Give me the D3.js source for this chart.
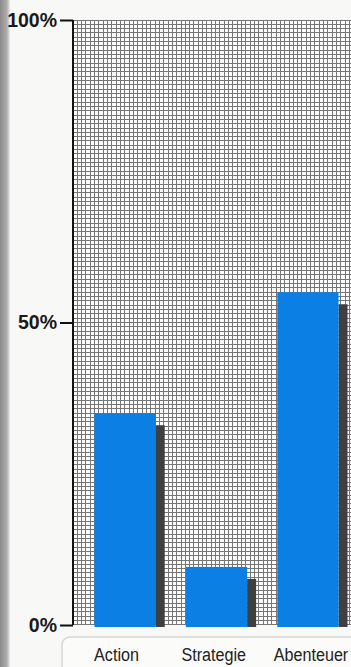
<!DOCTYPE html>
<html><head><meta charset="utf-8">
<script src="https://cdn.jsdelivr.net/npm/d3@7"></script>
<style>html,body{margin:0;padding:0;background:#f7f7f5;overflow:hidden}</style>
</head><body><svg id="c" width="351" height="667"></svg>
<script>
const categories = ["Action", "Strategie", "Abenteuer"];
const values = [35, 9.6, 55];
const tickValues = [0, 50, 100];
const tickLabels = ["0%", "50%", "100%"];

const W = 351, H = 667;
const svg = d3.select("#c");
const x0 = 73, yTop = 20, yBot = 625;
const y = d3.scaleLinear().domain([0, 100]).range([yBot, yTop]);
const x = d3.scaleBand().domain(categories).range([x0, 360]).paddingInner(0.33).paddingOuter(0.235);
const xl = d3.scalePoint().domain(categories).range([116.5, 311]);

svg.append("rect").attr("width", W).attr("height", H).attr("fill", "#f8f8f6");
const defs = svg.append("defs");
const g1 = defs.append("linearGradient").attr("id", "edge");
g1.append("stop").attr("offset", "0%").attr("stop-color", "#8a8a8a");
g1.append("stop").attr("offset", "70%").attr("stop-color", "#b0b0b0");
g1.append("stop").attr("offset", "100%").attr("stop-color", "#ececec");
svg.append("rect").attr("x", 0).attr("y", 0).attr("width", 10).attr("height", H).attr("fill", "url(#edge)");

// grid background
const grid = svg.append("g").attr("shape-rendering", "crispEdges");
grid.append("rect").attr("x", x0).attr("y", yTop).attr("width", W - x0).attr("height", yBot - yTop).attr("fill", "#fdfdfd");
const step = 4.32;
const gx = d3.range(x0 + step, W, step);
const gy = d3.range(yTop, yBot, step);
grid.selectAll("line.v").data(gx).join("line")
  .attr("x1", d => d).attr("x2", d => d).attr("y1", yTop).attr("y2", yBot)
  .attr("stroke", "#767676").attr("stroke-width", 1);
grid.selectAll("line.h").data(gy).join("line")
  .attr("y1", d => d).attr("y2", d => d).attr("x1", x0).attr("x2", W)
  .attr("stroke", "#767676").attr("stroke-width", 1);

// label box
svg.append("rect").attr("x", 62).attr("y", 637).attr("width", 320).attr("height", 60).attr("rx", 8)
  .attr("fill", "#fbfbfa").attr("stroke", "#d6d6d6").attr("stroke-width", 1.5);

const data = categories.map((c, i) => ({c, v: values[i]}));
svg.selectAll("rect.sh").data(data).join("rect")
  .attr("x", d => x(d.c) + x.bandwidth()).attr("width", 9)
  .attr("y", d => y(d.v) + 12).attr("height", d => yBot + 2 - y(d.v) - 12)
  .attr("fill", "#3f3f3f");
svg.selectAll("rect.bar").data(data).join("rect")
  .attr("x", d => x(d.c)).attr("width", x.bandwidth())
  .attr("y", d => y(d.v)).attr("height", d => yBot + 2 - y(d.v))
  .attr("fill", "#0b7fe3");

// y axis
const axis = d3.axisLeft(y).tickValues(tickValues).tickSize(13).tickPadding(3)
  .tickFormat((d, i) => tickLabels[i]);
const ag = svg.append("g").attr("transform", `translate(${x0},0)`).call(axis);
ag.select(".domain").attr("stroke", "#111").attr("stroke-width", 2).attr("d", `M0,${yTop}V${yBot}`);
ag.selectAll(".tick line").attr("stroke", "#111").attr("stroke-width", 2);
ag.selectAll(".tick text")
  .style("font-family", "'Liberation Sans', Arial, sans-serif").style("font-weight", "bold")
  .style("font-size", "19.5px").attr("fill", "#1a1a1a");

// x labels
svg.selectAll("text.cat").data(categories).join("text")
  .attr("transform", d => `translate(${xl(d)},661) scale(0.85,1)`)
  .attr("text-anchor", "middle")
  .style("font-family", "'Liberation Sans', Arial, sans-serif").style("font-size", "19px")
  .attr("fill", "#222").text(d => d);
</script></body></html>
